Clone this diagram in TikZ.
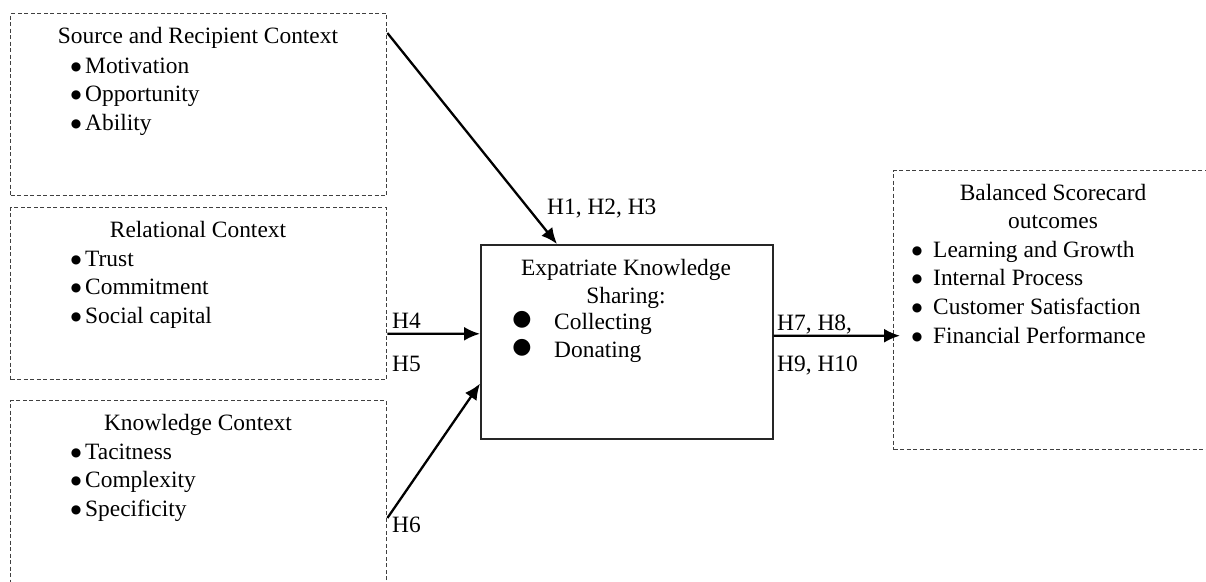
\documentclass[tikz,border=0pt]{standalone}
\usepackage{fontspec}
\setmainfont{Liberation Serif}
\newfontfamily\symfnt{DejaVu Sans}
\usetikzlibrary{arrows.meta}
\tikzset{
  dbox/.style={draw=black!75, line width=1.4pt, dash pattern=on 4pt off 2.5pt, inner sep=0pt, anchor=north west},
  sbox/.style={draw=black!85, line width=1.6pt, inner sep=0pt, anchor=north west},
  txt/.style={inner sep=0pt, anchor=base west, font=\fontsize{23.4}{28}\selectfont},
  ttl/.style={inner sep=0pt, anchor=base, font=\fontsize{23.4}{28}\selectfont},
  bul/.style={inner sep=0pt, anchor=center, font=\symfnt\fontsize{12}{13}\selectfont},
  bigbul/.style={inner sep=0pt, anchor=center, font=\symfnt\fontsize{22}{22}\selectfont},
  arr/.style={-{Latex[length=16pt,width=14pt]}, line width=2.3pt, draw=black}
}
\begin{document}
\begin{tikzpicture}[x=1pt,y=-1pt]
\clip (0,0) rectangle (1206,581);
\fill[white] (0,0) rectangle (1206,581);
% boxes
\node[dbox, minimum width=376pt, minimum height=182pt] (b1) at (10,13) {};
\node[dbox, minimum width=376pt, minimum height=172pt] (b2) at (10,207) {};
\node[dbox, minimum width=376pt, minimum height=200pt] (b3) at (10,400) {};
\node[sbox, minimum width=292pt, minimum height=194pt] (ek) at (480,244) {};
\node[dbox, minimum width=330pt, minimum height=279pt] (bs) at (893,170) {};
% box 1
\node[ttl] (t1) at (198,43) {Source and Recipient Context};
\node[bul] (b1a) at (76,67) {●};
\node[bul] (b1b) at (76,95) {●};
\node[bul] (b1c) at (76,124) {●};
\node[txt] (i1a) at (85,73) {Motivation};
\node[txt] (i1b) at (85,101) {Opportunity};
\node[txt] (i1c) at (85,130) {Ability};
% box 2
\node[ttl] (t2) at (198,237) {Relational Context};
\node[bul] (b2a) at (76,260) {●};
\node[bul] (b2b) at (76,288) {●};
\node[bul] (b2c) at (76,317) {●};
\node[txt] (i2a) at (85,266) {Trust};
\node[txt] (i2b) at (85,294) {Commitment};
\node[txt] (i2c) at (85,323) {Social capital};
% box 3
\node[ttl] (t3) at (198,430) {Knowledge Context};
\node[bul] (b3a) at (76,453) {●};
\node[bul] (b3b) at (76,481) {●};
\node[bul] (b3c) at (76,510) {●};
\node[txt] (i3a) at (85,459) {Tacitness};
\node[txt] (i3b) at (85,487) {Complexity};
\node[txt] (i3c) at (85,516) {Specificity};
% center box
\node[ttl] (t4) at (626,275) {Expatriate Knowledge};
\node[ttl] (t4b) at (626,303) {Sharing:};
\node[bigbul] (b4a) at (522,320) {●};
\node[bigbul] (b4b) at (522,348) {●};
\node[txt] (i4a) at (554,329) {Collecting};
\node[txt] (i4b) at (554,357) {Donating};
% right box
\node[ttl] (t5) at (1053,200) {Balanced Scorecard};
\node[ttl] (t5b) at (1053,228) {outcomes};
\node[bul] (b5a) at (917,251) {●};
\node[bul] (b5b) at (917,279) {●};
\node[bul] (b5c) at (917,308) {●};
\node[bul] (b5d) at (917,337) {●};
\node[txt] (i5a) at (933,257) {Learning and Growth};
\node[txt] (i5b) at (933,285) {Internal Process};
\node[txt] (i5c) at (933,314) {Customer Satisfaction};
\node[txt] (i5d) at (933,343) {Financial Performance};
% arrows
\draw[arr] ([yshift=-20pt]b1.north east) -- ([xshift=77pt]ek.north west);
\draw[arr] ([yshift=-40pt]b2.east) -- ([yshift=8pt]ek.west);
\draw[arr] ([yshift=-118pt]b3.north east) -- ([yshift=56pt]ek.south west);
\draw[arr] ([yshift=6pt]ek.east) -- ([xshift=7pt,yshift=-25.5pt]bs.west);
% labels
\node[txt] (h1) at (547,214) {H1, H2, H3};
\node[txt] (h4) at (392,328) {H4};
\node[txt] (h5) at (392,371) {H5};
\node[txt] (h6) at (392,532) {H6};
\node[txt] (h7) at (777,330) {H7, H8,};
\node[txt] (h9) at (777,371) {H9, H10};
\end{tikzpicture}
\end{document}
